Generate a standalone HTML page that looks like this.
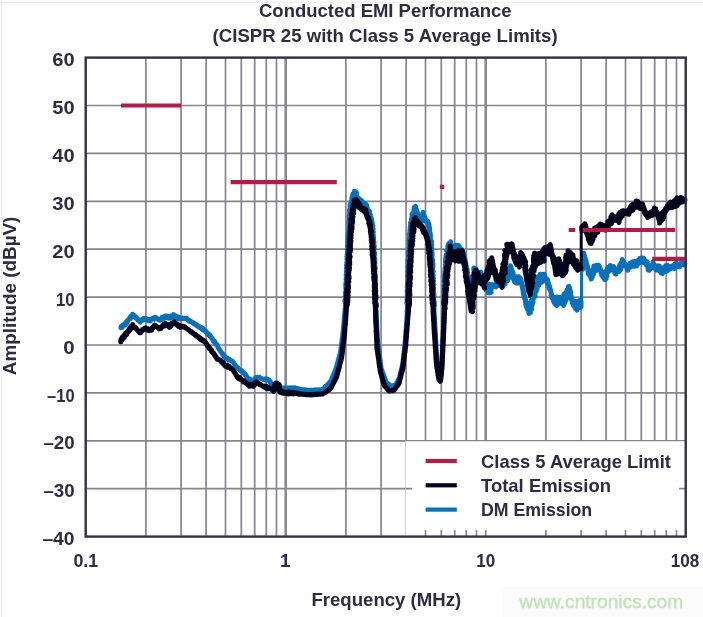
<!DOCTYPE html>
<html><head><meta charset="utf-8"><title>Conducted EMI Performance</title>
<style>
html,body{margin:0;padding:0;background:#fff;}
body{width:703px;height:617px;overflow:hidden;}
.t{font-family:"Liberation Sans",sans-serif;font-weight:bold;font-size:19px;fill:#2e2c40;}
.w{font-family:"Liberation Sans",sans-serif;font-size:19px;fill:#c0e4b9;stroke:#c0e4b9;stroke-width:0.35px;}
</style></head><body>
<svg width="703" height="617" viewBox="0 0 703 617" style="display:block;will-change:transform">
<rect x="0" y="0" width="703" height="617" fill="#ffffff"/>
<path d="M0,2.3H703 M1.3,0V617" stroke="#ebebeb" stroke-width="1" fill="none"/>
<path d="M145.9,57.6V536.6 M181.1,57.6V536.6 M206.1,57.6V536.6 M225.5,57.6V536.6 M241.3,57.6V536.6 M254.7,57.6V536.6 M266.3,57.6V536.6 M276.5,57.6V536.6 M345.9,57.6V536.6 M381.1,57.6V536.6 M406.1,57.6V536.6 M425.5,57.6V536.6 M441.3,57.6V536.6 M454.7,57.6V536.6 M466.3,57.6V536.6 M476.5,57.6V536.6 M545.9,57.6V536.6 M581.1,57.6V536.6 M606.1,57.6V536.6 M625.5,57.6V536.6 M641.3,57.6V536.6 M654.7,57.6V536.6 M666.3,57.6V536.6 M676.5,57.6V536.6" stroke="#86848f" stroke-width="1.7" fill="none"/>
<path d="M285.7,57.6V536.6 M485.7,57.6V536.6" stroke="#86848f" stroke-width="2.5" fill="none"/>
<path d="M85.7,488.7H685.7 M85.7,440.8H685.7 M85.7,392.9H685.7 M85.7,345.0H685.7 M85.7,297.1H685.7 M85.7,249.2H685.7 M85.7,201.3H685.7 M85.7,153.4H685.7 M85.7,105.5H685.7" stroke="#86848f" stroke-width="1.7" fill="none"/>
<path d="M120.9,327.8 L121.1,326.5 L122.4,327.1 L122.7,325.2 L124.1,325.2 L124.4,323.9 L125.7,324.8 L125.7,322.5 L126.8,322.8 L126.9,320.9 L127.9,320.8 L128.1,319.8 L129.1,319.6 L129.1,318.7 L130.2,318.8 L130.3,316.7 L131.2,317.3 L131.4,315.7 L132.5,315.6 L132.6,314.1 L133.6,315.7 L133.8,315.0 L134.9,317.3 L135.0,316.3 L136.2,318.1 L136.5,317.4 L137.5,319.8 L137.8,318.9 L138.8,320.7 L139.0,320.2 L140.2,322.1 L140.5,320.4 L141.8,320.6 L142.3,319.4 L143.4,320.0 L143.8,318.3 L145.2,319.7 L145.7,318.4 L147.1,320.1 L147.3,319.1 L148.8,320.7 L149.1,319.5 L150.5,320.8 L150.8,319.1 L152.1,319.3 L152.7,318.4 L154.1,319.1 L154.4,317.4 L155.8,318.6 L156.4,317.7 L157.9,319.5 L158.3,319.1 L159.8,320.1 L160.1,319.2 L161.5,319.5 L161.9,317.6 L163.1,318.6 L163.5,316.9 L164.9,317.9 L165.2,316.0 L166.7,317.7 L166.9,316.0 L168.4,318.1 L168.8,316.9 L170.0,318.1 L170.3,316.0 L171.7,317.3 L172.1,315.9 L173.3,316.4 L173.7,314.6 L175.1,316.6 L175.4,315.8 L176.8,317.5 L177.2,316.5 L178.6,318.8 L179.0,317.1 L180.4,318.9 L180.9,318.2 L182.4,318.6 L182.8,317.9 L184.3,318.5 L184.9,318.4 L186.3,319.2 L186.7,318.2 L187.9,320.4 L188.4,319.8 L189.6,321.4 L189.9,320.5 L191.4,322.0 L191.7,321.8 L192.9,323.2 L193.1,322.6 L194.4,323.9 L194.8,323.5 L196.1,325.1 L196.2,324.6 L197.5,325.9 L197.8,325.5 L199.1,327.2 L199.5,326.6 L200.7,328.2 L201.1,327.4 L202.5,329.6 L202.9,328.3 L204.2,330.5 L204.3,329.7 L205.5,331.8 L205.7,330.9 L207.0,333.5 L207.1,332.6 L208.3,334.8 L208.4,333.6 L209.6,335.8 L209.7,334.9 L210.9,336.8 L211.0,336.9 L212.0,338.8 L212.1,338.3 L213.3,340.9 L213.3,340.0 L214.3,342.4 L214.5,341.1 L215.5,343.8 L215.5,343.3 L216.6,345.1 L216.7,344.3 L217.7,346.6 L217.8,346.9 L218.7,348.6 L218.7,348.2 L219.8,350.4 L219.7,349.9 L220.8,351.6 L220.8,351.6 L222.0,353.0 L222.0,353.5 L223.1,354.9 L223.1,354.3 L224.3,356.9 L224.3,355.7 L225.4,358.3 L225.8,357.9 L227.2,358.8 L227.4,358.1 L228.7,360.0 L229.2,359.2 L230.5,360.6 L230.8,360.5 L232.1,361.4 L232.5,361.2 L233.6,362.7 L233.5,362.6 L234.7,364.9 L234.6,363.9 L235.7,366.5 L235.7,365.8 L236.8,367.0 L236.8,367.3 L238.2,368.8 L238.3,368.2 L239.6,369.8 L239.9,369.9 L241.1,371.1 L241.4,370.2 L242.7,372.4 L242.9,372.1 L244.2,373.8 L244.1,372.9 L245.3,375.1 L245.3,374.1 L246.3,376.3 L246.3,375.8 L247.3,378.0 L247.3,377.4 L248.4,379.8 L248.9,378.5 L250.4,379.7 L251.1,379.9 L252.6,380.8 L253.1,380.0 L254.2,380.4 L254.4,379.3 L255.6,378.7 L255.7,377.4 L256.9,377.5 L257.5,377.2 L258.9,378.2 L259.5,377.2 L260.9,378.6 L261.5,378.4 L263.0,379.3 L263.5,379.3 L265.0,380.2 L265.5,378.8 L266.9,380.0 L267.5,379.2 L268.9,380.6 L269.0,379.9 L270.1,382.5 L270.2,381.5 L271.2,384.0 L271.4,383.9 L272.5,385.6 L272.6,385.4 L274.1,386.6 L274.4,385.7 L275.7,387.4 L276.1,386.3 L277.5,387.9 L277.8,387.0 L279.1,388.6 L279.4,387.7 L280.9,388.9 L281.6,387.7 L283.0,389.3 L283.7,388.1 L285.2,389.8 L285.5,388.1 L287.2,389.2 L287.5,388.0 L289.0,389.1 L289.5,387.8 L290.9,389.0 L291.5,387.8 L292.9,388.5 L293.3,387.9 L294.7,388.8 L295.1,387.8 L296.5,389.9 L296.9,388.4 L298.4,389.9 L298.8,388.8 L300.2,389.5 L300.9,389.4 L302.0,389.6 L302.8,389.6 L304.0,389.8 L304.7,389.7 L305.8,390.1 L306.5,389.9 L307.7,390.1 L308.5,390.1 L309.6,390.3 L310.4,390.2 L311.5,390.4 L312.3,390.1 L313.3,390.2 L314.0,390.0 L315.1,390.1 L315.9,389.8 L317.0,390.0 L317.7,389.8 L318.8,390.0 L319.5,389.6 L320.7,389.8 L321.4,389.6 L322.5,389.7 L323.2,388.6 L324.2,388.1 L324.9,387.0 L325.7,386.7 L326.2,385.9 L327.1,385.3 L327.5,384.6 L328.3,384.0 L328.7,383.2 L329.6,382.8 L330.1,381.8 L330.9,381.5 L331.0,380.4 L331.6,379.8 L331.7,378.8 L332.3,378.2 L332.5,377.2 L333.0,376.5 L333.1,375.4 L333.7,374.8 L333.8,373.8 L334.4,373.1 L334.6,372.1 L335.1,371.5 L335.3,370.5 L335.8,369.8 L335.8,368.7 L336.3,368.0 L336.4,367.0 L336.8,366.4 L336.8,365.2 L337.3,364.5 L337.3,363.5 L337.8,362.7 L337.8,361.7 L338.2,361.1 L338.2,360.0 L338.7,359.2 L338.8,358.3 L339.2,357.6 L339.3,356.5 L339.8,355.9 L339.7,354.8 L340.2,354.1 L340.2,353.0 L340.7,352.3 L340.6,351.2 L341.0,350.5 L340.9,349.3 L341.1,348.7 L341.0,347.6 L341.4,346.9 L341.3,345.9 L341.6,345.1 L341.5,344.0 L341.8,343.3 L341.7,342.2 L342.0,341.5 L341.9,340.4 L342.3,339.7 L342.2,338.7 L342.5,337.9 L342.4,336.8 L342.7,336.1 L342.6,335.0 L342.9,334.4 L342.8,333.2 L343.2,332.6 L343.0,331.6 L343.4,330.9 L343.3,329.7 L343.6,329.1 L343.4,327.9 L343.8,327.1 L343.6,326.1 L343.9,325.3 L343.8,324.2 L344.1,323.5 L343.9,322.2 L344.2,321.5 L344.1,320.3 L344.4,319.6 L344.2,318.5 L344.5,317.8 L344.4,316.7 L344.7,315.9 L344.6,314.9 L344.8,314.1 L344.7,313.0 L345.0,312.2 L344.9,311.1 L345.2,310.4 L345.0,309.2 L345.3,308.6 L345.2,307.4 L345.5,306.6 L345.3,305.5 L345.5,304.7 L345.4,303.7 L345.9,305.2 L344.8,300.7 L346.4,304.5 L345.3,297.1 L346.2,300.4 L345.3,295.3 L346.3,300.4 L345.5,294.4 L346.4,296.7 L345.5,293.6 L346.4,295.0 L345.4,292.2 L346.7,292.4 L345.8,288.7 L346.8,292.9 L345.8,287.1 L347.0,288.9 L345.6,285.0 L347.1,286.6 L346.0,282.8 L347.0,285.4 L346.1,281.9 L347.1,284.0 L346.1,279.8 L347.0,282.4 L346.1,278.4 L347.3,280.7 L346.2,275.4 L347.4,279.4 L346.3,274.6 L347.3,277.6 L346.1,274.9 L347.3,274.1 L346.3,271.7 L347.8,274.7 L346.4,267.8 L347.4,273.3 L346.7,266.3 L347.5,272.2 L346.4,265.2 L347.6,269.0 L346.9,263.4 L347.8,266.9 L346.8,262.1 L348.2,266.6 L347.1,258.9 L348.0,263.5 L346.9,259.1 L348.4,261.3 L346.9,256.7 L348.2,259.6 L347.1,254.2 L348.3,258.6 L347.4,252.0 L348.4,255.3 L347.5,250.6 L348.6,254.3 L347.6,249.9 L348.4,251.1 L347.6,247.5 L348.8,249.8 L347.6,246.9 L348.9,248.1 L347.6,245.1 L348.8,246.2 L347.9,244.3 L348.9,244.8 L347.9,241.4 L349.1,244.3 L347.9,239.7 L349.3,241.2 L347.9,235.6 L349.5,239.6 L348.2,235.1 L349.6,236.9 L348.4,233.1 L349.7,235.8 L348.5,229.8 L349.7,234.8 L348.7,229.6 L349.9,234.3 L348.8,227.3 L349.7,231.1 L348.9,223.8 L350.0,228.8 L349.1,221.4 L350.1,226.8 L348.8,222.7 L350.2,224.7 L349.0,221.1 L350.4,221.6 L349.2,218.5 L350.4,222.3 L349.2,217.7 L350.4,219.0 L349.1,216.3 L350.4,217.7 L349.6,213.6 L350.7,216.3 L349.5,211.0 L350.6,214.8 L349.5,210.3 L351.0,212.7 L349.9,208.6 L351.2,211.8 L350.0,205.3 L351.5,209.3 L350.7,203.1 L352.2,206.6 L351.0,203.3 L352.5,204.7 L351.6,200.7 L352.8,202.6 L351.8,198.2 L353.5,202.4 L352.4,196.2 L353.7,199.2 L352.9,193.9 L354.8,198.1 L354.0,192.4 L355.5,194.5 L354.5,191.1 L356.4,192.5 L355.5,192.1 L356.9,197.6 L356.3,193.7 L357.5,199.3 L356.7,196.3 L358.3,199.9 L357.2,197.7 L359.4,202.5 L359.0,198.4 L360.9,205.4 L360.4,199.6 L362.0,205.4 L361.6,200.4 L363.6,205.8 L363.5,202.5 L365.5,204.9 L365.1,203.7 L367.0,208.4 L366.3,204.4 L367.5,209.9 L366.7,206.8 L368.7,211.1 L368.0,209.9 L369.6,211.5 L368.5,210.3 L370.3,214.4 L369.3,212.9 L370.7,217.4 L369.9,214.5 L371.1,218.8 L370.1,216.6 L371.4,219.9 L370.7,216.7 L371.6,221.5 L371.1,217.4 L372.3,223.1 L371.1,222.8 L372.3,224.4 L371.3,224.0 L372.8,225.8 L371.7,224.9 L372.7,227.0 L371.7,226.7 L373.1,229.0 L371.7,229.4 L373.3,232.0 L372.3,229.9 L373.2,234.6 L372.4,229.2 L373.5,236.5 L372.6,232.8 L373.8,238.3 L372.4,237.6 L373.6,239.8 L372.7,236.7 L374.0,242.1 L372.8,240.7 L373.7,243.0 L372.7,240.6 L374.0,244.2 L373.0,242.5 L374.3,246.3 L372.8,243.3 L374.2,249.1 L373.1,246.9 L374.2,251.9 L373.1,249.0 L374.5,252.8 L373.4,251.7 L374.5,254.7 L373.3,253.6 L374.3,257.0 L373.3,255.7 L374.8,258.2 L373.6,256.3 L374.9,260.1 L373.5,256.7 L374.6,262.7 L373.6,259.2 L374.9,263.0 L373.7,261.1 L374.8,265.4 L373.7,265.4 L375.0,266.9 L373.8,266.0 L375.0,268.8 L373.9,267.3 L375.0,271.7 L373.7,269.3 L374.8,275.0 L374.0,270.9 L375.0,277.3 L373.9,273.3 L375.4,276.9 L374.0,273.5 L375.4,279.3 L374.2,276.1 L375.1,282.4 L373.9,279.1 L375.3,283.3 L374.1,280.7 L375.5,283.5 L374.3,281.3 L375.3,286.0 L374.5,283.3 L375.3,289.1 L374.3,286.0 L375.8,291.0 L374.3,288.7 L375.4,293.0 L374.7,289.2 L375.7,294.3 L374.6,290.9 L375.8,294.7 L374.6,292.5 L375.9,296.0 L374.8,295.3 L375.9,299.8 L374.8,296.1 L375.8,301.0 L374.7,298.5 L375.7,301.8 L374.9,300.9 L375.9,304.1 L374.7,302.1 L376.0,307.1 L375.5,305.4 L375.8,306.6 L375.6,307.0 L375.9,308.4 L375.7,308.8 L376.0,310.2 L375.8,310.9 L376.1,312.0 L375.9,312.5 L376.2,313.9 L376.0,314.4 L376.3,315.7 L376.1,316.2 L376.4,317.3 L376.2,318.0 L376.5,319.1 L376.3,319.9 L376.6,321.0 L376.4,321.7 L376.7,323.0 L376.5,323.5 L376.8,324.8 L376.6,325.3 L376.9,326.6 L376.6,327.0 L376.9,328.3 L376.7,328.8 L377.1,330.1 L376.9,330.7 L377.2,332.0 L377.0,332.5 L377.3,333.8 L377.1,334.4 L377.3,335.6 L377.1,336.4 L377.4,337.4 L377.3,338.1 L377.6,339.3 L377.4,339.9 L377.8,340.9 L377.6,341.7 L377.9,342.8 L377.8,343.5 L378.2,344.7 L378.1,345.2 L378.4,346.5 L378.2,347.3 L378.6,348.2 L378.5,348.9 L378.8,350.0 L378.8,350.8 L379.2,351.9 L378.9,352.5 L379.3,353.7 L379.2,354.3 L379.5,355.4 L379.3,356.2 L379.8,357.2 L379.7,357.8 L380.0,359.1 L379.8,359.7 L380.2,360.7 L380.1,361.5 L380.5,362.7 L380.3,363.2 L380.6,364.5 L380.5,365.0 L381.0,366.4 L380.8,366.9 L381.1,368.2 L381.1,368.7 L381.8,370.0 L381.9,370.6 L382.4,371.7 L382.4,372.2 L383.1,373.5 L383.1,374.2 L383.8,375.3 L383.7,375.9 L384.4,377.1 L384.4,377.6 L385.0,378.8 L385.1,379.4 L385.7,380.6 L385.7,381.3 L386.4,382.4 L386.9,382.8 L388.0,383.9 L388.6,384.0 L389.6,385.1 L390.2,385.6 L391.2,386.3 L392.1,385.8 L393.4,385.8 L394.1,385.3 L395.5,385.5 L395.8,384.2 L396.6,383.7 L396.8,382.6 L397.5,381.9 L397.7,380.9 L398.5,380.2 L398.6,379.2 L399.4,378.7 L399.4,377.5 L399.8,376.9 L399.8,375.6 L400.4,375.1 L400.3,373.9 L400.7,373.2 L400.7,372.0 L401.2,371.3 L401.1,370.1 L401.7,369.4 L401.6,368.3 L402.1,367.6 L402.0,366.5 L402.5,365.9 L402.5,364.7 L403.0,363.9 L402.8,362.9 L403.1,362.2 L402.9,361.0 L403.4,360.5 L403.2,359.0 L403.6,358.4 L403.4,357.2 L403.8,356.7 L403.7,355.4 L404.0,354.7 L403.8,353.6 L404.2,352.8 L404.1,351.6 L404.5,351.1 L404.3,349.7 L404.7,349.2 L404.5,348.0 L404.9,347.4 L404.7,346.2 L405.1,345.6 L404.9,344.3 L405.3,343.6 L405.0,342.3 L405.5,341.8 L405.2,340.5 L405.5,340.0 L405.4,338.8 L405.7,338.1 L405.5,337.0 L405.9,336.2 L405.7,335.2 L405.9,334.6 L405.8,333.2 L406.0,332.8 L405.9,331.4 L406.2,330.9 L406.0,329.7 L406.4,329.0 L406.2,327.8 L406.4,327.3 L406.3,326.1 L406.7,325.5 L406.4,324.4 L406.8,323.6 L406.6,322.5 L406.9,321.8 L406.7,320.7 L407.0,320.0 L406.8,318.9 L407.1,318.2 L406.9,317.0 L407.3,316.4 L407.0,315.2 L407.4,314.4 L407.1,313.4 L407.4,312.8 L407.1,311.5 L407.5,311.0 L407.2,309.7 L407.6,309.1 L407.3,307.9 L407.6,307.2 L407.3,306.0 L407.6,305.4 L406.8,302.8 L408.1,305.6 L407.0,299.7 L408.1,304.3 L407.2,299.4 L408.2,302.3 L407.0,298.3 L408.4,299.7 L407.2,295.7 L408.2,296.4 L407.2,293.6 L408.4,293.8 L407.1,291.3 L408.6,292.7 L407.3,288.9 L408.6,291.4 L407.2,287.5 L408.5,288.8 L407.3,286.1 L408.5,287.4 L407.4,283.6 L408.7,285.5 L407.6,281.9 L408.8,284.5 L407.7,278.9 L408.7,282.5 L407.8,278.8 L408.8,280.7 L407.4,276.3 L409.0,281.8 L407.5,274.1 L408.8,276.4 L407.8,271.6 L409.0,275.1 L407.7,271.0 L408.8,275.1 L407.9,269.9 L408.8,273.1 L407.7,266.6 L409.1,272.1 L408.0,266.0 L409.0,269.0 L408.0,263.6 L409.3,265.9 L407.9,260.9 L409.0,264.1 L408.1,258.9 L409.4,263.5 L408.2,258.7 L409.3,262.8 L408.3,256.2 L409.5,258.5 L408.4,254.3 L409.5,258.7 L408.2,251.6 L409.5,256.5 L408.7,251.0 L409.8,254.4 L408.8,250.3 L409.6,251.3 L408.7,248.6 L410.1,250.3 L409.1,247.4 L410.3,248.9 L409.0,243.2 L410.2,247.4 L409.2,242.1 L410.4,246.4 L409.1,240.6 L410.3,245.4 L409.5,237.6 L410.7,242.1 L409.5,238.6 L410.8,239.7 L409.3,235.3 L410.5,235.9 L409.5,234.2 L410.7,236.1 L409.7,232.7 L410.7,233.0 L409.9,230.2 L410.9,234.0 L410.1,227.8 L411.2,232.4 L410.5,225.0 L411.6,229.1 L410.5,222.8 L412.1,227.2 L410.8,223.6 L412.2,224.9 L411.4,219.0 L412.3,223.4 L411.4,219.3 L412.7,221.3 L411.8,217.6 L413.1,219.7 L411.9,214.2 L413.5,217.5 L412.8,213.1 L414.1,213.9 L413.3,213.0 L414.4,214.0 L413.9,209.6 L415.2,212.9 L414.0,207.8 L415.6,210.9 L414.6,207.1 L416.2,208.4 L415.5,206.3 L416.6,210.5 L415.7,207.3 L417.3,213.4 L416.6,210.4 L417.9,213.7 L416.8,212.7 L418.3,214.5 L417.5,213.4 L419.0,217.7 L417.9,216.2 L420.0,220.5 L419.5,217.6 L421.0,221.1 L420.9,218.5 L422.6,220.9 L422.1,217.4 L423.9,220.5 L423.0,212.3 L425.0,218.4 L423.9,215.9 L425.6,219.9 L424.7,217.4 L426.2,221.3 L425.2,219.6 L426.5,222.3 L426.6,221.0 L429.0,224.7 L427.8,221.4 L429.2,226.2 L428.2,225.3 L429.6,228.2 L428.5,224.1 L429.8,230.8 L428.6,226.1 L429.8,232.1 L429.0,230.2 L430.2,233.0 L429.1,230.4 L430.5,236.1 L429.4,231.5 L430.6,235.6 L429.6,233.7 L430.9,240.2 L429.8,235.9 L431.0,242.5 L430.3,238.4 L431.6,241.9 L430.5,240.0 L431.8,245.2 L430.6,242.3 L431.7,248.2 L430.9,243.8 L431.9,249.2 L430.8,245.3 L432.0,251.0 L431.0,249.2 L432.1,253.0 L431.2,248.3 L432.3,254.6 L431.1,249.9 L432.1,257.0 L431.1,253.8 L432.4,259.2 L431.2,256.4 L432.7,260.0 L431.5,258.4 L432.7,260.8 L431.6,258.6 L432.8,263.1 L431.7,260.5 L433.0,264.1 L431.6,261.3 L433.0,266.7 L432.0,264.5 L432.9,270.4 L431.8,266.9 L433.1,272.0 L432.0,268.7 L433.2,271.5 L432.0,270.2 L433.2,274.9 L432.3,271.9 L433.1,277.3 L432.4,274.5 L433.5,278.2 L432.2,277.1 L433.6,281.2 L432.3,277.1 L433.3,283.7 L432.5,280.0 L433.6,284.5 L432.2,281.5 L433.8,284.6 L432.5,282.8 L433.8,289.5 L432.5,285.5 L433.7,288.4 L432.5,287.1 L433.6,290.1 L432.9,288.3 L433.9,293.6 L432.7,290.1 L434.0,294.3 L433.0,291.5 L434.0,296.3 L433.0,293.2 L433.8,299.2 L432.9,295.8 L434.1,301.2 L433.2,298.2 L434.3,302.3 L433.3,299.8 L434.4,303.3 L433.1,302.6 L434.5,305.3 L433.2,304.9 L433.9,305.6 L433.7,306.2 L434.1,307.5 L433.8,307.9 L434.1,309.2 L433.8,309.8 L434.1,311.2 L434.0,311.7 L434.3,312.9 L434.0,313.3 L434.3,314.7 L434.2,315.3 L434.5,316.4 L434.3,317.1 L434.7,318.3 L434.3,319.0 L434.6,320.2 L434.5,320.8 L434.8,322.0 L434.6,322.6 L434.9,323.6 L434.7,324.4 L434.9,325.6 L434.8,326.3 L435.1,327.3 L434.9,328.1 L435.2,329.3 L435.0,329.9 L435.3,331.1 L435.1,331.8 L435.4,332.9 L435.2,333.6 L435.5,334.6 L435.2,335.3 L435.6,336.4 L435.4,337.1 L435.7,338.3 L435.5,338.9 L435.8,340.1 L435.5,340.7 L435.9,341.9 L435.7,342.6 L436.0,343.9 L435.8,344.4 L436.1,345.5 L435.9,346.2 L436.2,347.3 L436.1,348.1 L436.3,349.1 L436.1,349.9 L436.4,351.0 L436.2,351.7 L436.5,353.0 L436.3,353.5 L436.6,354.7 L436.5,355.2 L436.7,356.5 L436.6,357.2 L436.8,358.2 L436.6,359.0 L436.9,360.0 L436.7,360.7 L437.2,361.9 L437.0,362.5 L437.4,363.8 L437.2,364.3 L437.6,365.6 L437.5,366.1 L437.9,367.4 L437.7,367.9 L438.1,369.2 L438.0,369.8 L438.3,370.9 L438.1,371.6 L438.6,372.7 L438.4,373.4 L438.8,374.5 L438.6,375.2 L439.1,376.3 L438.9,376.9 L440.0,377.7 L440.4,377.9 L440.9,377.3 L440.6,376.1 L441.0,375.3 L440.9,374.2 L441.2,373.4 L441.0,372.1 L441.4,371.5 L441.2,370.4 L441.6,369.5 L441.4,368.5 L441.8,367.9 L441.6,366.4 L442.0,365.9 L441.8,364.5 L442.2,364.1 L441.9,362.8 L442.3,362.2 L442.1,361.0 L442.4,360.3 L442.2,359.1 L442.6,358.5 L442.2,357.3 L442.6,356.7 L442.3,355.4 L442.6,355.0 L442.4,353.6 L442.7,353.2 L442.5,351.9 L442.8,351.3 L442.6,350.0 L442.9,349.3 L442.7,348.2 L442.9,347.7 L442.7,346.4 L443.0,345.8 L442.8,344.6 L443.1,344.0 L442.9,342.8 L443.2,342.3 L442.9,341.0 L443.3,340.2 L443.1,339.2 L443.3,338.6 L443.1,337.2 L443.4,336.7 L443.2,335.4 L443.5,334.9 L443.3,333.7 L443.6,333.1 L443.3,331.9 L443.7,331.3 L443.4,330.1 L443.7,329.4 L443.5,328.3 L443.8,327.6 L443.5,326.4 L443.9,325.7 L443.7,324.7 L443.9,323.9 L443.8,322.8 L444.0,322.1 L443.8,320.9 L444.0,320.4 L443.8,319.2 L444.1,318.6 L443.8,317.3 L444.2,316.7 L444.0,315.4 L444.3,314.9 L444.0,313.5 L444.3,313.1 L444.1,311.7 L444.4,311.2 L444.1,310.1 L444.4,309.4 L444.1,308.2 L444.5,307.7 L444.2,306.3 L444.5,305.7 L443.8,304.0 L445.0,304.4 L443.9,301.0 L444.8,302.3 L444.0,298.6 L444.9,300.0 L443.9,297.7 L445.1,298.7 L443.9,296.4 L445.2,298.0 L444.0,293.1 L444.9,298.5 L443.9,291.5 L445.1,294.9 L444.4,290.8 L445.3,293.9 L444.0,288.1 L445.3,292.6 L444.2,286.0 L445.2,289.6 L444.2,286.6 L445.6,287.3 L444.3,282.0 L445.6,286.0 L444.5,279.8 L445.6,282.8 L444.3,277.8 L445.5,284.1 L444.4,276.8 L445.7,281.2 L444.5,275.0 L445.7,278.0 L444.8,272.5 L446.1,275.5 L444.8,271.3 L446.1,274.5 L445.0,269.4 L446.1,274.8 L445.0,268.1 L446.3,272.5 L445.4,265.4 L446.6,270.2 L445.4,264.5 L446.4,267.8 L445.4,261.5 L446.7,266.8 L445.6,259.7 L447.0,263.5 L445.7,258.9 L447.1,260.6 L445.9,257.5 L446.9,257.7 L446.0,256.1 L447.4,257.7 L446.4,254.5 L447.7,254.5 L446.6,250.9 L448.3,253.8 L447.0,250.5 L448.7,251.7 L447.7,246.1 L449.2,251.1 L448.7,243.4 L450.0,250.2 L449.2,245.0 L450.6,249.2 L449.9,243.5 L451.5,247.4 L450.7,241.6 L451.9,248.8 L451.3,246.4 L453.1,250.3 L451.9,246.4 L453.8,252.7 L452.9,246.5 L454.3,254.4 L453.8,249.7 L455.5,254.5 L454.8,249.1 L456.5,251.0 L456.0,245.1 L458.2,252.4 L457.4,245.4 L459.6,252.4 L458.7,245.4 L460.7,250.3 L459.7,248.1 L461.4,253.8 L460.7,248.8 L462.6,253.7 L461.4,249.0 L463.2,255.7 L462.8,251.0 L464.4,255.5 L463.1,254.5 L464.3,258.6 L463.6,258.1 L464.7,260.3 L463.8,257.8 L465.4,262.7 L464.4,256.8 L465.8,262.6 L464.9,260.6 L466.3,265.9 L465.0,263.2 L466.4,266.8 L465.3,263.9 L467.0,269.1 L465.8,268.9 L467.3,271.2 L466.1,268.3 L467.5,272.7 L466.4,271.4 L467.7,276.4 L466.4,274.3 L468.1,277.3 L467.0,275.1 L468.0,277.2 L467.3,277.4 L468.3,280.2 L467.3,279.5 L469.0,282.6 L467.5,280.1 L469.3,284.9 L468.1,282.0 L469.5,285.0 L468.5,285.3 L469.9,288.3 L468.8,286.8 L470.2,289.8 L469.2,286.7 L470.8,292.8 L469.5,288.7 L471.4,293.9 L470.1,286.8 L471.4,291.3 L470.6,288.8 L472.1,291.6 L471.0,287.0 L472.5,288.9 L471.4,283.3 L473.1,286.0 L472.0,283.9 L473.5,285.3 L472.2,276.5 L474.1,283.0 L472.6,278.3 L474.1,279.9 L473.0,276.9 L474.4,278.8 L473.5,275.2 L474.8,278.5 L473.8,272.7 L475.0,274.1 L473.7,269.2 L475.4,273.0 L473.8,268.0 L475.6,272.0 L474.2,267.9 L475.6,269.5 L474.5,268.4 L476.5,270.8 L475.5,269.4 L477.0,274.9 L475.8,268.6 L477.8,274.7 L476.8,271.7 L478.3,277.9 L477.0,272.8 L479.3,278.7 L479.1,272.9 L481.4,280.2 L480.9,272.0 L483.3,278.7 L482.5,275.8 L484.1,279.6 L483.0,277.4 L484.5,281.8 L483.2,279.9 L485.1,286.9 L483.7,280.7 L485.1,288.2 L484.6,282.4 L485.7,289.2 L484.7,286.2 L486.4,290.0 L486.0,287.8 L488.3,292.8 L487.4,285.3 L489.9,293.0 L489.1,284.2 L491.2,292.3 L490.4,286.0 L492.6,287.1 L492.0,284.5 L494.2,286.3 L493.7,285.2 L496.0,286.8 L495.5,284.6 L498.2,285.4 L497.7,283.0 L499.8,285.4 L499.6,283.7 L502.1,283.3 L501.5,281.1 L503.3,285.6 L502.9,279.0 L505.3,283.8 L504.9,275.1 L506.9,280.8 L505.6,276.5 L507.6,280.8 L506.6,271.9 L508.0,278.2 L507.7,271.8 L509.1,277.8 L508.3,271.7 L510.0,277.1 L509.2,267.6 L510.5,275.4 L510.5,265.7 L512.6,272.5 L511.8,271.0 L513.2,272.9 L511.9,270.3 L513.3,275.7 L512.5,272.5 L513.9,279.5 L512.6,271.8 L514.0,280.1 L513.1,277.7 L514.5,281.6 L514.3,279.4 L516.2,283.0 L516.2,276.6 L517.9,283.1 L517.5,277.9 L519.3,280.1 L518.6,276.6 L520.0,281.2 L519.2,278.5 L521.1,282.9 L519.8,277.4 L521.8,284.8 L520.7,278.6 L522.2,286.9 L521.4,281.7 L522.6,286.1 L521.4,283.3 L523.0,290.3 L521.8,284.3 L523.5,292.5 L522.5,287.3 L523.8,296.2 L523.0,289.3 L524.0,294.8 L523.0,290.0 L524.5,298.5 L523.4,291.6 L525.2,298.5 L524.1,294.4 L525.2,299.5 L524.2,296.5 L525.9,300.9 L524.5,297.9 L526.4,302.8 L524.9,298.6 L526.4,307.0 L525.4,301.8 L527.1,307.7 L525.7,304.4 L527.8,308.8 L526.8,307.2 L528.2,310.8 L527.5,307.8 L529.1,313.5 L528.3,307.0 L530.1,312.5 L529.0,305.6 L530.6,312.6 L530.0,305.9 L531.6,309.1 L530.2,303.1 L531.9,306.2 L531.2,300.7 L532.3,304.5 L531.4,301.2 L532.8,303.5 L532.2,297.4 L533.1,302.1 L532.5,297.3 L533.7,297.7 L533.0,293.8 L534.4,297.7 L533.1,290.2 L534.7,296.3 L533.5,289.3 L535.3,296.2 L534.4,289.4 L535.8,291.2 L534.9,288.7 L536.2,291.3 L535.1,286.1 L536.5,289.4 L535.8,281.2 L537.2,289.2 L536.4,281.1 L537.7,286.1 L536.9,277.2 L539.0,285.2 L538.3,276.5 L540.3,281.4 L539.4,275.6 L541.4,282.5 L540.3,274.2 L542.9,281.3 L542.6,274.1 L544.8,278.2 L544.3,274.1 L545.8,279.6 L545.1,276.8 L546.6,280.6 L545.9,279.5 L547.3,282.9 L546.6,280.1 L548.3,285.7 L547.4,279.4 L549.1,286.7 L548.2,283.5 L549.5,286.6 L548.3,282.9 L550.1,289.4 L548.8,287.4 L550.6,290.6 L549.3,288.6 L550.9,290.7 L550.0,288.5 L551.6,294.5 L550.6,291.1 L552.2,297.5 L551.1,295.4 L552.9,298.0 L551.5,297.3 L553.2,299.2 L552.5,297.7 L554.0,302.6 L553.0,298.2 L554.9,303.1 L553.8,297.0 L555.8,303.8 L554.8,303.5 L556.8,305.5 L556.0,302.0 L557.8,304.6 L557.1,296.9 L559.2,303.3 L558.2,297.6 L560.0,300.9 L559.8,297.2 L561.8,303.8 L561.6,300.2 L563.6,305.4 L563.1,297.8 L564.8,303.0 L563.9,294.3 L565.5,300.9 L564.8,293.9 L566.1,300.3 L565.5,293.0 L567.0,296.7 L566.2,291.9 L567.8,293.7 L567.1,289.9 L568.6,291.5 L567.7,289.4 L569.1,291.1 L568.3,286.6 L569.8,291.6 L569.0,286.1 L570.2,290.5 L569.1,289.7 L570.8,292.3 L569.7,291.7 L571.0,299.0 L570.2,292.0 L571.4,297.2 L570.7,294.3 L572.0,300.0 L570.6,293.6 L572.3,301.7 L571.4,299.6 L572.7,302.6 L571.6,299.9 L573.5,305.6 L572.5,302.9 L574.5,306.8 L573.8,300.6 L575.6,308.9 L574.5,304.0 L576.9,310.1 L576.8,301.5 L578.6,307.3 L578.4,301.5 L580.0,307.8 L579.4,300.5 L581.0,307.1 L581.0,301.6 M582.3,269.5 L581.9,265.9 L582.8,268.9 L582.0,263.0 L582.8,267.0 L582.3,260.8 L583.4,266.6 L582.7,259.3 L583.6,263.0 L582.9,259.1 L583.7,261.1 L583.2,257.7 L584.1,259.1 L583.4,252.9 L584.5,257.0 L583.8,253.3 L584.9,258.4 L584.4,255.7 L585.5,260.6 L585.0,257.8 L586.3,263.7 L585.6,261.6 L586.7,265.6 L586.0,260.5 L587.1,266.3 L586.4,263.4 L587.5,266.3 L586.9,266.7 L587.9,270.3 L587.4,267.3 L588.6,274.3 L587.8,268.2 L589.2,271.8 L588.5,270.7 L589.8,275.5 L589.5,272.9 L591.2,279.0 L590.6,274.1 L592.2,277.8 L591.6,272.2 L592.8,273.2 L592.6,270.9 L593.5,274.3 L593.1,269.1 L594.5,271.6 L593.8,266.0 L595.3,269.9 L594.9,267.2 L596.7,270.4 L596.7,265.2 L598.1,268.0 L597.9,265.3 L599.2,267.4 L598.8,265.3 L599.9,268.0 L599.5,267.5 L600.7,269.7 L600.2,268.5 L601.3,274.5 L601.0,270.3 L602.4,276.4 L602.2,273.5 L603.5,277.6 L603.0,272.3 L604.6,279.4 L604.2,276.3 L605.4,279.4 L604.8,274.5 L606.2,278.5 L605.9,270.9 L607.0,276.2 L606.4,270.8 L607.6,272.3 L607.2,268.6 L608.9,271.2 L608.5,267.0 L610.2,270.5 L610.2,265.4 L611.7,268.5 L611.2,266.6 L612.7,268.4 L612.3,267.3 L613.8,270.6 L613.6,266.4 L615.0,273.5 L614.5,269.8 L616.0,274.2 L615.8,269.9 L617.4,271.9 L617.4,268.7 L619.0,271.5 L618.8,268.6 L619.9,270.4 L619.6,265.1 L620.9,269.1 L620.7,263.3 L622.1,266.3 L621.4,262.2 L622.6,262.9 L622.3,259.4 L623.8,264.0 L623.2,261.1 L624.8,264.1 L624.5,263.3 L625.8,266.5 L625.4,264.8 L626.8,266.4 L626.4,265.4 L627.6,270.3 L627.3,266.8 L628.6,268.6 L628.6,265.6 L630.0,267.3 L629.9,263.1 L631.3,266.8 L631.0,264.7 L632.3,265.7 L632.5,261.7 L634.6,266.3 L634.8,261.4 L636.6,265.9 L636.5,261.3 L638.3,263.7 L638.6,259.7 L640.1,262.3 L640.1,258.1 L642.1,261.6 L641.9,257.8 L643.7,262.7 L643.7,258.2 L644.9,261.0 L644.5,259.8 L645.8,263.1 L645.5,261.1 L646.5,265.1 L646.3,263.2 L647.6,266.6 L647.2,261.7 L648.2,270.0 L647.8,264.9 L649.4,270.3 L649.7,266.9 L651.3,267.6 L651.1,265.4 L652.8,266.6 L652.9,262.3 L654.3,267.8 L654.5,264.8 L656.0,270.1 L655.9,266.6 L657.9,268.1 L657.8,265.8 L659.3,271.0 L659.3,265.9 L661.0,273.0 L660.9,268.3 L662.6,273.6 L662.6,269.7 L664.2,271.0 L664.3,267.3 L665.8,271.6 L665.7,265.6 L667.5,270.6 L667.3,265.2 L669.3,269.4 L669.3,266.8 L671.1,268.7 L671.4,266.2 L673.1,268.0 L672.9,265.5 L674.5,268.5 L674.8,264.0 L676.2,267.0 L676.3,262.9 L677.8,266.6 L677.9,263.9 L679.7,266.8 L679.8,263.7 L681.5,264.6 L682.0,262.2 L684.0,264.8 L684.8,263.9" stroke="#0b70b8" stroke-width="4.9" fill="none" stroke-linejoin="round" stroke-linecap="round"/>
<path d="M581.6,303V262" stroke="#0b70b8" stroke-width="3" fill="none"/>
<path d="M120.8,341.7 L121.0,339.5 L122.0,340.0 L122.1,337.6 L123.2,338.6 L123.2,336.2 L124.3,337.2 L124.5,334.7 L125.5,335.6 L125.6,333.3 L126.7,334.4 L126.9,332.1 L127.9,332.1 L128.1,331.0 L129.1,331.1 L129.1,329.4 L130.3,329.7 L130.4,327.3 L131.4,328.3 L131.5,326.0 L132.6,326.6 L132.7,324.5 L133.8,326.9 L134.1,327.0 L135.3,328.0 L135.4,327.5 L136.7,329.3 L136.8,329.5 L138.0,331.0 L138.4,330.9 L139.5,332.6 L139.7,332.0 L140.8,332.5 L141.0,331.0 L142.4,330.7 L142.6,329.6 L143.7,329.5 L144.1,328.5 L145.3,328.8 L145.7,327.9 L147.0,329.9 L147.5,328.6 L148.9,330.6 L149.3,330.2 L150.5,330.3 L150.7,329.1 L151.8,330.0 L152.0,328.0 L153.0,328.1 L153.1,326.8 L154.2,326.8 L154.5,325.1 L155.8,326.1 L156.2,326.1 L157.6,327.2 L157.9,327.4 L159.1,328.9 L159.5,327.9 L160.7,328.6 L160.9,327.3 L162.2,327.2 L162.4,325.9 L163.6,326.3 L163.9,324.1 L165.0,325.6 L165.3,323.3 L166.6,325.4 L166.7,324.8 L168.1,326.1 L168.5,324.8 L169.7,327.3 L169.9,325.1 L171.2,325.6 L171.5,323.3 L172.8,324.0 L173.1,322.6 L174.2,322.6 L174.4,321.6 L175.7,324.0 L176.0,323.3 L177.2,325.3 L177.2,324.1 L178.5,326.4 L178.9,325.1 L180.4,327.2 L181.0,326.0 L182.5,326.9 L182.9,326.2 L184.4,327.3 L184.9,327.1 L186.1,328.3 L186.4,328.2 L187.6,329.1 L187.8,329.4 L189.2,330.3 L189.4,330.5 L190.6,331.8 L190.9,331.4 L192.1,332.9 L192.3,332.5 L193.7,333.7 L194.0,333.8 L195.2,335.1 L195.4,334.4 L196.7,336.1 L197.0,335.9 L198.2,337.1 L198.5,336.9 L199.8,338.7 L200.1,337.9 L201.3,339.8 L201.6,339.2 L202.7,340.6 L203.1,340.1 L204.3,341.5 L204.5,341.2 L205.6,342.9 L205.6,342.3 L206.8,344.5 L206.9,345.0 L208.0,346.3 L208.0,345.7 L209.1,348.1 L209.3,347.6 L210.3,349.0 L210.5,349.2 L211.5,351.4 L211.6,350.4 L212.7,352.8 L212.6,352.4 L213.7,353.6 L213.8,353.4 L214.9,355.5 L214.9,355.3 L215.9,357.2 L216.2,357.0 L217.1,358.9 L217.4,358.8 L218.6,359.6 L218.9,359.6 L220.2,360.2 L220.5,360.6 L221.5,361.9 L221.7,361.8 L222.8,363.4 L223.0,362.2 L224.0,364.4 L224.2,364.5 L225.3,366.0 L225.8,365.1 L227.0,366.8 L227.4,365.3 L228.7,367.6 L229.1,366.3 L230.5,368.4 L230.9,368.0 L232.1,369.3 L232.2,369.2 L233.2,370.7 L233.3,370.2 L234.3,372.1 L234.2,371.5 L235.2,373.6 L235.4,373.7 L236.4,375.3 L236.4,375.3 L237.4,377.5 L237.6,376.4 L238.8,378.6 L239.2,377.3 L240.3,379.2 L240.6,378.3 L241.9,380.1 L242.1,380.1 L243.3,381.7 L243.7,380.6 L244.9,382.3 L245.1,382.2 L246.3,383.3 L246.6,383.0 L247.8,384.7 L248.1,384.2 L249.3,386.1 L249.9,384.4 L251.4,385.8 L252.1,385.0 L253.6,386.1 L253.6,383.8 L255.0,384.6 L255.2,382.7 L256.2,383.2 L256.4,381.9 L257.8,383.3 L258.1,383.1 L259.4,384.2 L259.9,384.1 L261.3,385.1 L261.6,385.4 L263.0,386.2 L263.3,386.1 L264.7,387.0 L265.1,386.2 L266.3,388.1 L266.6,386.3 L268.0,388.6 L268.5,387.5 L269.8,388.6 L270.3,388.7 L271.7,389.6 L272.1,389.2 L273.6,391.4 L274.0,389.9 L274.6,390.1 L274.2,388.3 L274.8,388.4 L274.4,386.6 L275.0,386.3 L274.7,384.5 L275.3,384.7 L275.6,383.2 L277.2,384.8 L277.7,383.4 L279.1,384.5 L278.7,384.6 L279.4,386.4 L279.0,386.6 L279.6,387.9 L279.2,388.1 L279.8,390.4 L279.4,390.3 L279.9,392.2 L280.5,391.8 L282.0,392.9 L282.6,391.5 L284.2,393.1 L284.7,392.3 L286.0,393.2 L286.4,392.4 L288.0,393.7 L288.3,392.1 L289.8,393.6 L290.1,392.2 L291.7,393.5 L292.2,392.4 L293.5,393.7 L293.9,392.4 L295.3,393.3 L295.7,392.9 L297.3,393.8 L297.6,393.1 L299.0,394.2 L299.4,393.9 L300.7,394.1 L301.4,394.0 L302.5,394.3 L303.2,394.2 L304.4,394.5 L305.1,394.4 L306.2,394.7 L306.9,394.4 L308.0,394.8 L308.7,394.6 L309.8,394.9 L310.5,394.6 L311.6,394.9 L312.3,394.4 L313.4,394.6 L314.1,394.3 L315.2,394.4 L316.0,394.2 L317.0,394.4 L317.7,394.1 L318.9,394.3 L319.6,394.0 L320.7,394.1 L321.4,393.9 L322.5,394.0 L323.1,393.3 L324.2,393.0 L324.9,392.5 L325.8,392.1 L326.3,391.4 L327.3,391.0 L327.8,390.2 L328.8,390.1 L329.3,389.1 L330.2,388.9 L330.7,388.0 L331.3,387.4 L331.5,386.4 L332.2,385.8 L332.4,384.8 L333.0,384.1 L333.3,383.1 L333.9,382.3 L334.0,381.4 L334.7,380.7 L334.9,379.7 L335.6,379.1 L335.7,377.9 L336.4,377.5 L336.6,376.3 L337.0,375.8 L337.0,374.7 L337.5,374.0 L337.5,372.8 L337.9,372.2 L337.9,371.0 L338.4,370.5 L338.4,369.3 L338.9,368.8 L338.9,367.5 L339.3,366.9 L339.4,365.8 L339.7,365.2 L339.8,364.0 L340.2,363.3 L340.2,362.3 L340.7,361.7 L340.7,360.5 L341.1,359.9 L341.1,358.8 L341.6,358.1 L341.5,356.9 L341.8,356.3 L341.7,355.1 L342.1,354.6 L342.0,353.4 L342.3,352.8 L342.2,351.6 L342.5,350.9 L342.4,349.7 L342.7,349.2 L342.6,348.0 L343.0,347.4 L342.8,346.2 L343.1,345.5 L343.0,344.4 L343.4,343.6 L343.3,342.7 L343.6,341.9 L343.5,340.8 L343.8,340.1 L343.8,339.1 L344.1,338.4 L344.0,337.3 L344.3,336.7 L344.2,335.6 L344.5,334.9 L344.4,333.6 L344.7,333.0 L344.5,331.8 L344.8,331.2 L344.7,330.0 L344.9,329.3 L344.8,328.2 L345.0,327.4 L344.9,326.2 L345.2,325.5 L345.1,324.3 L345.4,323.7 L345.2,322.5 L345.5,321.9 L345.3,320.6 L345.7,320.0 L345.5,318.8 L345.8,318.1 L345.6,316.8 L345.9,316.3 L345.7,315.0 L346.1,314.5 L345.9,313.2 L346.2,312.7 L346.0,311.3 L346.3,310.8 L346.2,309.3 L346.5,308.8 L346.3,307.6 L346.6,307.0 L346.4,305.7 L346.8,305.1 L346.3,303.0 L347.3,304.4 L346.2,300.7 L347.4,304.5 L346.5,296.9 L347.8,301.5 L346.4,296.3 L347.7,300.4 L346.7,295.4 L347.9,298.2 L346.7,292.2 L348.0,295.6 L346.8,289.7 L348.0,294.6 L346.9,288.9 L348.3,291.6 L347.1,288.2 L348.1,289.8 L347.1,284.2 L348.6,288.2 L347.5,282.8 L348.4,286.7 L347.4,282.1 L348.4,285.8 L347.2,279.7 L348.8,281.7 L347.5,277.6 L348.5,281.2 L347.5,275.3 L348.7,279.4 L347.7,274.2 L349.1,278.3 L348.0,272.8 L348.9,276.6 L347.8,271.5 L348.8,272.7 L348.1,270.5 L349.2,270.3 L347.9,267.6 L349.4,268.7 L348.1,264.9 L349.3,268.6 L348.5,264.8 L349.4,267.3 L348.4,263.1 L349.7,264.1 L348.3,259.2 L349.6,262.5 L348.8,258.0 L349.7,261.7 L348.6,258.0 L349.7,258.8 L348.8,255.3 L350.1,256.7 L348.7,253.6 L349.9,256.0 L348.9,252.7 L350.1,251.9 L348.9,249.9 L350.4,250.7 L349.3,248.3 L350.5,249.3 L349.1,246.0 L350.4,248.1 L349.5,245.9 L350.5,246.2 L349.4,242.8 L350.5,243.7 L349.4,242.1 L350.6,242.4 L349.4,239.1 L350.9,241.3 L349.7,236.4 L350.8,238.5 L350.0,234.1 L350.9,237.7 L350.0,232.1 L351.1,235.5 L350.2,231.1 L351.3,232.3 L350.3,228.4 L351.4,232.2 L350.7,226.2 L351.8,227.7 L350.5,226.1 L352.0,228.5 L350.7,225.0 L352.0,226.5 L351.0,223.2 L352.3,223.6 L351.0,219.3 L352.5,221.9 L351.1,220.2 L352.4,220.9 L351.5,214.6 L352.5,219.2 L351.6,215.3 L352.9,216.6 L351.7,213.6 L353.0,213.9 L352.3,210.3 L353.7,213.2 L352.5,209.3 L353.7,209.9 L353.1,206.4 L354.1,208.4 L353.4,204.7 L354.5,207.3 L353.9,203.2 L355.2,205.7 L354.2,200.5 L355.3,206.2 L354.8,199.6 L356.6,204.9 L356.6,199.8 L358.2,204.1 L357.7,201.6 L359.5,207.9 L358.8,203.4 L360.5,208.4 L360.1,204.8 L361.6,209.6 L361.1,207.0 L363.0,210.4 L363.0,209.2 L365.0,212.5 L364.3,208.8 L366.1,212.8 L365.6,209.6 L367.0,216.9 L366.1,211.6 L367.6,218.5 L366.6,213.6 L368.4,220.0 L367.5,216.2 L368.9,221.0 L368.3,218.5 L369.8,222.3 L368.5,217.8 L369.9,223.8 L368.8,223.2 L370.5,225.3 L369.4,224.8 L370.5,227.1 L369.8,225.7 L371.0,230.8 L369.8,226.2 L371.2,230.7 L370.3,228.5 L371.6,231.5 L370.4,230.8 L371.7,236.6 L370.6,232.7 L372.1,239.7 L371.1,234.8 L372.1,239.0 L371.3,236.6 L372.3,239.6 L371.2,237.5 L372.4,241.3 L371.3,240.1 L372.4,243.7 L371.5,241.9 L372.7,246.4 L371.8,241.1 L373.0,247.4 L371.9,245.5 L373.1,250.6 L371.9,246.3 L373.0,253.5 L371.8,248.8 L373.1,255.7 L372.2,251.3 L373.3,256.4 L372.2,254.7 L373.5,257.8 L372.4,253.0 L373.5,259.8 L372.6,256.8 L373.9,261.7 L372.9,258.6 L374.1,262.2 L372.9,259.9 L374.0,263.6 L373.1,261.9 L374.1,267.8 L373.1,262.8 L374.0,268.1 L373.3,265.1 L374.6,268.6 L373.2,267.0 L374.5,271.4 L373.6,269.6 L374.5,273.1 L373.5,271.2 L374.9,274.5 L373.5,272.8 L374.9,277.7 L373.9,274.1 L374.8,278.1 L373.8,276.9 L375.0,280.6 L374.0,278.9 L375.5,284.6 L374.3,279.5 L375.3,285.2 L374.4,281.6 L375.6,284.6 L374.3,284.5 L375.5,288.7 L374.3,286.8 L375.4,290.6 L374.5,289.1 L375.6,293.1 L374.4,287.7 L375.6,295.3 L374.3,291.1 L375.7,296.2 L374.6,293.0 L375.5,296.0 L374.5,294.3 L375.9,297.5 L374.7,296.7 L375.6,299.4 L374.6,297.9 L376.1,304.7 L375.0,300.1 L376.1,304.9 L374.8,302.7 L376.2,305.9 L375.3,305.4 L375.5,306.6 L375.3,307.2 L375.6,308.4 L375.4,309.0 L375.7,310.3 L375.4,310.8 L375.7,312.1 L375.5,312.6 L375.8,313.9 L375.5,314.6 L375.8,315.7 L375.6,316.3 L375.8,317.6 L375.6,318.2 L376.0,319.3 L375.7,320.0 L376.0,321.2 L375.7,321.9 L376.1,323.0 L375.8,323.7 L376.1,324.8 L376.0,325.5 L376.2,326.7 L376.1,327.3 L376.4,328.5 L376.2,329.0 L376.5,330.2 L376.1,330.9 L376.5,332.1 L376.3,332.6 L376.6,333.9 L376.4,334.4 L376.7,335.6 L376.4,336.4 L376.8,337.4 L376.5,338.3 L376.9,339.4 L376.6,340.1 L377.0,341.2 L376.7,341.8 L376.9,343.1 L376.8,343.5 L377.0,344.9 L376.8,345.3 L377.2,346.6 L376.9,347.2 L377.3,348.4 L377.1,349.2 L377.4,350.2 L377.3,350.7 L377.8,352.1 L377.6,352.8 L378.1,353.9 L377.8,354.5 L378.3,355.6 L378.1,356.2 L378.5,357.4 L378.4,358.0 L378.7,359.2 L378.7,359.8 L379.0,361.0 L378.9,361.6 L379.2,363.0 L379.1,363.4 L379.6,364.5 L379.3,365.2 L379.7,366.4 L379.6,367.1 L380.1,368.2 L379.9,368.7 L380.3,369.9 L380.1,370.6 L380.5,371.6 L380.5,372.3 L381.0,373.5 L381.0,374.1 L381.6,375.4 L381.6,376.1 L382.1,377.1 L382.0,377.7 L382.6,379.1 L382.6,379.6 L383.1,381.0 L383.1,381.4 L383.7,382.6 L383.6,383.3 L384.2,384.5 L384.2,385.1 L385.0,386.2 L385.4,386.6 L386.3,387.7 L386.6,388.1 L387.5,389.0 L387.8,389.5 L388.7,390.5 L389.1,390.9 L390.3,391.0 L391.0,390.5 L392.3,390.7 L393.0,390.2 L394.2,390.3 L394.4,389.3 L395.3,388.6 L395.4,387.7 L396.3,387.1 L396.6,386.1 L397.4,385.8 L397.6,384.7 L398.5,384.3 L398.8,383.4 L399.3,382.5 L399.2,381.4 L399.7,380.7 L399.7,379.5 L400.2,379.1 L400.2,377.6 L400.6,377.2 L400.6,375.9 L401.1,375.3 L401.0,374.1 L401.5,373.2 L401.5,372.1 L402.1,371.6 L401.9,370.3 L402.5,369.9 L402.4,368.5 L402.9,368.1 L402.8,366.6 L403.2,366.1 L403.0,364.9 L403.4,364.3 L403.2,363.3 L403.6,362.5 L403.5,361.2 L403.8,360.7 L403.6,359.6 L404.0,358.9 L403.9,357.8 L404.3,357.3 L404.1,355.9 L404.5,355.5 L404.3,354.1 L404.7,353.6 L404.6,352.4 L405.0,351.7 L404.8,350.6 L405.2,349.9 L405.0,348.7 L405.4,348.2 L405.2,346.9 L405.6,346.2 L405.5,345.2 L405.9,344.6 L405.6,343.3 L405.9,342.7 L405.8,341.5 L406.1,340.9 L405.9,339.9 L406.2,339.2 L406.1,338.0 L406.4,337.3 L406.2,336.2 L406.5,335.4 L406.3,334.3 L406.6,333.5 L406.4,332.5 L406.8,331.8 L406.6,330.7 L407.0,330.0 L406.7,329.0 L407.1,328.1 L406.9,327.1 L407.2,326.4 L407.1,325.2 L407.4,324.6 L407.2,323.3 L407.6,322.8 L407.3,321.5 L407.6,321.0 L407.5,319.9 L407.8,319.1 L407.6,317.9 L407.9,317.3 L407.8,316.3 L408.1,315.6 L407.9,314.4 L408.3,313.9 L408.0,312.7 L408.4,312.0 L408.2,310.7 L408.6,310.2 L408.3,308.9 L408.6,308.3 L408.4,307.2 L408.7,306.5 L408.4,305.4 L409.2,306.0 L407.9,300.6 L409.4,304.0 L408.0,301.2 L409.5,302.9 L408.3,298.1 L409.5,301.5 L408.3,296.6 L409.6,299.6 L408.4,293.8 L409.4,298.5 L408.5,292.0 L409.8,294.9 L408.3,290.4 L409.7,293.4 L408.7,288.7 L409.5,290.8 L408.8,287.6 L409.7,290.5 L408.5,285.5 L409.7,287.4 L408.6,284.0 L410.0,286.4 L408.8,280.4 L410.1,283.9 L409.1,279.2 L410.0,282.6 L409.1,280.7 L410.0,280.7 L409.2,277.0 L410.3,278.5 L408.9,276.1 L410.4,278.0 L409.2,273.5 L410.5,276.9 L409.1,271.3 L410.5,272.1 L409.3,268.5 L410.7,272.1 L409.2,266.5 L410.5,270.0 L409.5,265.0 L410.8,266.4 L409.5,263.6 L410.8,265.8 L409.6,261.1 L410.7,263.9 L410.0,261.7 L411.1,262.2 L410.1,260.1 L411.1,260.4 L410.0,255.5 L411.0,258.9 L410.1,255.4 L411.2,256.9 L410.4,252.7 L411.3,256.9 L410.3,251.2 L411.4,254.3 L410.4,250.0 L411.7,251.9 L410.8,247.8 L411.7,251.7 L410.6,245.8 L411.9,246.4 L411.0,243.9 L412.2,245.6 L410.9,240.7 L412.3,244.0 L411.1,242.0 L412.2,241.8 L411.5,239.2 L412.6,241.3 L411.6,235.3 L412.7,241.0 L411.6,234.5 L412.9,238.0 L411.6,234.2 L413.0,235.5 L412.1,232.7 L413.2,233.2 L412.0,229.4 L413.3,233.0 L412.3,226.8 L413.8,231.7 L412.5,226.0 L414.1,229.9 L412.6,223.5 L414.2,226.2 L413.2,223.1 L414.8,225.5 L414.1,220.7 L415.6,223.5 L414.5,218.7 L416.2,220.5 L415.3,217.5 L416.8,220.7 L416.5,219.5 L418.2,223.4 L417.4,221.1 L419.0,225.8 L418.2,221.7 L420.2,225.3 L419.6,223.4 L421.0,227.2 L420.7,225.1 L422.1,227.6 L421.8,226.1 L423.4,232.5 L423.0,227.7 L424.6,232.9 L423.7,228.6 L425.5,234.8 L424.6,231.1 L426.1,235.3 L425.3,232.9 L426.6,238.1 L426.0,234.3 L427.3,240.0 L426.6,236.7 L428.2,241.0 L427.2,237.6 L428.7,243.3 L427.3,240.0 L428.9,244.7 L427.6,240.6 L428.9,246.7 L427.8,244.3 L429.3,247.8 L428.2,247.0 L429.5,249.1 L428.2,248.8 L429.7,250.7 L428.4,250.1 L430.0,252.9 L428.7,253.2 L430.0,255.4 L429.0,252.5 L430.1,258.3 L429.3,254.2 L430.2,259.5 L429.3,257.1 L430.5,263.7 L429.5,259.5 L430.8,261.6 L429.7,261.4 L430.9,264.6 L429.8,262.3 L430.8,268.3 L429.7,264.0 L431.0,269.6 L430.0,266.1 L431.0,270.9 L430.4,268.8 L431.2,273.3 L430.4,270.8 L431.7,274.3 L430.5,272.2 L431.6,274.8 L430.4,274.5 L431.7,277.0 L430.6,276.3 L431.8,279.0 L431.1,277.8 L432.3,281.4 L430.8,279.8 L432.0,283.5 L431.2,280.5 L432.5,285.5 L431.0,281.7 L432.6,285.7 L431.2,284.9 L432.6,287.7 L431.5,286.6 L432.4,289.8 L431.6,288.6 L432.5,291.3 L431.6,290.6 L432.5,293.2 L431.8,291.9 L432.7,295.8 L431.6,295.5 L433.0,298.3 L431.8,295.9 L433.1,299.8 L432.0,298.0 L433.0,300.0 L432.0,297.8 L433.5,303.5 L432.0,300.1 L433.5,305.1 L432.2,302.9 L433.0,305.6 L432.8,306.1 L433.1,307.4 L433.0,307.9 L433.2,309.1 L433.0,309.6 L433.4,310.9 L433.1,311.6 L433.4,312.9 L433.2,313.3 L433.5,314.7 L433.3,315.3 L433.6,316.3 L433.4,317.0 L433.8,318.3 L433.5,318.8 L433.8,319.9 L433.6,320.6 L433.9,321.8 L433.8,322.3 L434.1,323.6 L433.8,324.2 L434.2,325.4 L433.9,326.2 L434.2,327.2 L434.0,328.0 L434.3,329.0 L434.1,329.8 L434.4,330.8 L434.2,331.6 L434.6,332.6 L434.3,333.4 L434.8,334.5 L434.5,335.3 L434.9,336.5 L434.6,336.9 L434.9,338.2 L434.7,338.9 L435.1,340.1 L434.9,340.7 L435.2,341.9 L435.0,342.6 L435.3,343.8 L435.1,344.5 L435.4,345.7 L435.2,346.3 L435.5,347.5 L435.3,348.1 L435.6,349.4 L435.5,349.9 L435.8,351.1 L435.6,351.8 L436.0,353.0 L435.7,353.8 L436.1,354.9 L435.9,355.4 L436.2,356.8 L435.9,357.2 L436.3,358.6 L436.0,359.0 L436.4,360.3 L436.2,361.0 L436.6,362.2 L436.3,362.8 L436.7,364.2 L436.5,364.7 L436.9,365.7 L436.7,366.5 L437.2,367.5 L437.0,368.3 L437.4,369.5 L437.4,370.1 L437.8,371.3 L437.6,372.0 L438.1,373.1 L438.0,373.9 L438.3,374.9 L438.1,375.5 L438.6,376.9 L438.5,377.4 L438.9,378.7 L438.8,379.3 L439.8,380.6 L440.2,381.3 L440.6,380.6 L440.5,379.6 L440.8,378.7 L440.6,377.7 L441.0,377.0 L440.8,375.6 L441.2,375.2 L441.0,374.0 L441.3,373.4 L441.2,372.1 L441.5,371.7 L441.4,370.4 L441.8,369.6 L441.6,368.6 L441.9,367.9 L441.7,366.8 L442.0,366.0 L441.8,365.0 L442.1,364.3 L441.8,363.1 L442.2,362.3 L442.0,361.3 L442.3,360.6 L442.1,359.5 L442.3,358.9 L442.1,357.7 L442.5,357.1 L442.2,355.9 L442.6,355.1 L442.3,354.1 L442.6,353.3 L442.4,352.3 L442.7,351.5 L442.5,350.2 L442.8,349.7 L442.6,348.5 L442.9,347.8 L442.6,346.6 L442.9,346.0 L442.8,344.8 L443.1,344.2 L442.9,343.0 L443.2,342.3 L442.9,341.1 L443.2,340.4 L443.0,339.4 L443.3,338.7 L443.1,337.6 L443.4,336.9 L443.2,335.9 L443.5,335.1 L443.2,333.9 L443.6,333.4 L443.3,332.1 L443.7,331.6 L443.4,330.3 L443.7,329.7 L443.5,328.5 L443.9,328.0 L443.6,326.7 L443.9,326.0 L443.7,324.9 L443.9,324.1 L443.8,323.1 L444.1,322.5 L443.8,321.2 L444.1,320.6 L443.9,319.4 L444.3,318.7 L444.0,317.5 L444.3,316.9 L444.1,315.8 L444.4,315.2 L444.1,313.9 L444.5,313.4 L444.2,312.0 L444.5,311.5 L444.3,310.3 L444.7,309.8 L444.4,308.6 L444.8,307.9 L444.5,306.7 L444.8,306.0 L443.9,302.6 L445.2,308.3 L444.2,301.9 L445.4,303.2 L444.3,300.6 L445.7,302.0 L444.5,299.5 L445.8,299.5 L444.6,296.2 L445.9,297.2 L444.9,294.9 L445.8,297.3 L445.0,291.6 L446.0,295.6 L444.8,289.0 L446.0,292.6 L445.2,288.4 L446.4,290.0 L445.4,288.1 L446.6,288.1 L445.2,285.5 L446.5,285.6 L445.1,280.9 L446.8,283.7 L445.4,280.2 L447.0,282.1 L445.5,279.3 L447.3,284.3 L445.6,277.2 L447.3,282.7 L445.6,274.3 L447.5,276.5 L446.1,272.8 L447.8,275.3 L446.5,272.0 L447.6,277.4 L446.4,268.4 L447.8,270.8 L446.5,267.7 L447.9,270.9 L446.7,267.9 L447.9,270.9 L447.2,265.8 L448.3,268.8 L447.1,262.1 L448.8,265.9 L447.3,262.6 L449.4,263.7 L448.0,257.5 L449.6,261.5 L448.5,255.5 L450.1,259.6 L448.6,253.6 L450.2,261.5 L449.4,252.3 L451.0,259.4 L449.6,250.3 L451.2,258.8 L450.1,246.1 L451.4,252.4 L450.3,246.9 L452.6,259.4 L451.1,251.0 L453.1,259.4 L452.2,252.9 L453.7,259.1 L452.6,253.5 L455.4,260.8 L454.9,251.8 L457.4,260.5 L456.6,252.6 L458.6,261.2 L458.1,250.6 L459.9,261.2 L459.4,252.7 L461.6,259.8 L460.6,251.3 L462.6,257.8 L461.6,253.7 L463.0,258.4 L462.0,250.6 L464.0,259.8 L462.9,255.2 L464.1,259.9 L463.0,258.6 L465.0,263.3 L463.6,262.7 L465.3,265.7 L464.0,263.8 L465.7,268.1 L464.0,264.6 L465.5,270.3 L464.5,263.2 L466.1,271.3 L464.9,266.7 L466.1,271.5 L464.6,270.0 L466.4,273.7 L464.9,267.9 L466.5,277.2 L465.3,272.3 L466.9,280.3 L465.4,276.3 L467.1,279.1 L466.0,278.4 L467.4,281.0 L466.1,280.9 L467.4,284.6 L466.3,280.2 L467.8,284.5 L466.6,280.3 L468.3,291.5 L467.1,280.6 L468.2,290.3 L467.0,282.2 L468.5,292.0 L467.4,285.4 L469.0,293.2 L467.9,290.8 L469.2,295.2 L467.7,290.9 L469.7,298.4 L468.1,294.4 L469.7,299.0 L468.5,294.1 L470.1,298.8 L469.0,297.6 L470.5,300.7 L468.9,297.2 L470.6,305.2 L469.2,296.8 L471.0,307.1 L469.5,300.5 L471.1,310.8 L470.4,303.4 L471.9,307.5 L470.3,305.4 L472.0,311.4 L470.8,307.1 L472.5,311.6 L471.1,306.6 L472.4,309.8 L471.5,300.2 L472.8,308.2 L471.6,302.0 L473.0,307.9 L471.7,296.7 L473.2,306.7 L472.0,294.9 L473.1,302.3 L472.2,297.2 L473.5,298.6 L472.5,293.3 L473.9,297.5 L472.2,288.4 L473.9,298.6 L472.5,290.5 L474.4,296.2 L472.9,288.5 L474.0,292.2 L472.8,285.4 L474.6,290.6 L473.1,283.2 L474.6,290.6 L473.6,281.1 L475.0,290.8 L473.7,279.8 L475.1,287.9 L473.7,279.7 L475.5,286.5 L473.9,275.4 L475.8,282.3 L474.3,272.7 L475.9,279.1 L474.9,275.4 L476.8,278.9 L475.8,270.1 L477.2,275.9 L476.4,270.9 L478.3,277.7 L477.3,276.4 L478.8,282.3 L477.8,272.9 L479.3,282.3 L479.2,280.6 L481.4,283.8 L480.5,277.5 L482.9,284.7 L482.2,278.3 L484.4,288.0 L483.1,276.7 L485.3,281.5 L484.4,275.5 L486.8,279.6 L486.1,275.6 L487.9,278.0 L486.6,273.3 L487.8,275.2 L486.9,271.1 L488.6,276.0 L487.2,270.0 L488.7,274.4 L487.9,267.1 L489.4,273.6 L488.5,266.4 L490.0,273.0 L488.9,267.1 L490.3,268.6 L489.1,261.3 L491.5,264.8 L490.4,260.1 L492.0,264.2 L491.7,257.7 L492.9,270.2 L491.6,259.1 L493.5,270.3 L492.2,260.2 L494.2,270.6 L492.5,262.6 L494.3,271.5 L493.0,265.4 L494.7,274.5 L493.4,270.8 L495.4,275.6 L494.4,273.1 L495.7,277.3 L495.1,269.8 L496.2,280.1 L495.4,274.3 L497.4,280.4 L496.3,279.2 L497.6,281.6 L496.9,279.2 L499.3,282.0 L498.8,279.4 L501.1,284.5 L500.5,279.4 L502.1,287.3 L500.7,274.4 L502.4,283.0 L501.5,276.8 L502.9,280.9 L501.6,273.5 L503.4,281.3 L502.1,270.3 L504.0,274.3 L502.5,267.7 L504.0,274.4 L503.0,264.3 L504.6,273.3 L503.5,263.3 L505.0,270.5 L503.7,263.8 L505.2,273.0 L504.0,263.1 L505.3,268.1 L504.1,262.0 L505.7,262.7 L504.6,259.9 L505.8,263.6 L504.5,256.3 L505.9,261.8 L504.7,254.5 L506.2,258.7 L504.8,254.4 L506.5,256.8 L505.0,250.4 L506.6,256.4 L505.5,252.0 L507.2,254.0 L506.5,250.6 L508.0,250.2 L506.8,244.4 L508.4,249.1 L507.7,244.4 L510.0,251.2 L509.6,246.0 L511.9,252.2 L511.4,243.8 L513.2,250.9 L511.7,245.8 L513.8,254.3 L512.1,244.3 L513.9,258.1 L512.9,249.2 L514.7,260.3 L513.2,250.1 L515.3,261.9 L514.0,252.9 L515.8,263.0 L515.1,255.6 L516.7,264.6 L516.3,256.9 L518.2,263.8 L517.6,257.1 L519.4,267.1 L518.3,258.4 L520.6,263.9 L519.1,257.0 L521.2,262.5 L520.2,254.8 L522.0,261.1 L520.7,252.6 L523.1,259.2 L521.9,253.6 L524.1,260.2 L523.2,257.0 L525.5,261.9 L524.2,261.1 L525.6,264.7 L524.5,263.9 L525.8,265.8 L524.7,260.7 L525.6,266.8 L524.7,261.6 L526.0,270.7 L524.9,263.9 L526.3,274.7 L524.7,267.6 L526.4,277.5 L525.2,271.2 L526.6,277.2 L525.3,269.3 L526.7,279.9 L525.7,272.7 L527.2,279.2 L525.9,273.9 L527.2,281.5 L526.3,276.1 L527.8,282.8 L526.5,279.5 L527.9,285.0 L526.9,278.0 L528.4,289.6 L527.2,282.3 L528.8,291.6 L527.5,281.4 L529.4,292.0 L528.4,283.1 L529.5,292.9 L528.7,285.1 L530.2,295.1 L529.2,284.5 L530.4,293.4 L529.2,282.9 L530.7,290.6 L529.7,281.9 L531.3,288.2 L530.1,281.2 L531.6,283.8 L530.0,280.0 L531.7,285.1 L530.6,277.9 L532.2,286.4 L530.9,277.4 L532.1,281.2 L530.9,275.1 L532.7,283.2 L531.2,270.2 L533.1,276.7 L531.4,269.5 L533.4,275.6 L532.0,269.3 L533.7,271.1 L532.3,268.5 L533.5,271.2 L532.9,265.7 L534.2,270.3 L532.7,266.6 L534.1,268.1 L533.4,259.6 L534.5,268.2 L533.4,258.1 L535.3,266.9 L533.8,255.7 L535.2,264.9 L534.1,255.5 L535.3,260.9 L534.6,253.0 L535.9,257.6 L534.9,254.7 L536.9,259.6 L535.8,255.4 L538.0,263.7 L537.3,254.0 L539.7,260.6 L539.0,253.6 L541.0,262.3 L540.8,253.2 L542.5,258.2 L541.8,251.8 L544.2,261.1 L543.2,250.3 L545.2,253.4 L544.0,248.4 L546.2,251.5 L545.2,247.5 L547.1,253.5 L546.5,249.1 L549.0,254.2 L548.7,245.9 L550.8,254.3 L550.2,244.6 L551.9,253.8 L550.5,250.8 L552.6,255.9 L551.2,250.9 L553.3,259.9 L551.7,253.5 L553.6,263.3 L552.8,258.8 L554.0,262.2 L553.2,258.8 L554.9,261.2 L553.6,258.0 L555.1,264.9 L553.9,257.4 L555.4,267.9 L554.3,261.1 L555.9,274.6 L554.4,263.9 L555.7,272.8 L554.9,265.3 L556.3,271.6 L554.8,267.1 L556.4,274.4 L555.8,268.1 L557.6,274.1 L556.3,266.4 L557.9,274.1 L556.6,263.2 L558.7,269.9 L557.7,264.6 L559.3,268.1 L558.5,263.5 L559.7,267.2 L558.8,258.8 L560.2,269.8 L559.4,260.3 L560.8,270.8 L559.8,265.5 L561.2,269.2 L559.9,267.9 L561.7,269.8 L560.5,267.2 L561.9,270.7 L560.8,268.1 L562.2,275.7 L561.3,269.4 L563.0,275.2 L561.9,270.1 L564.0,274.0 L562.8,270.3 L564.8,272.6 L563.3,267.7 L565.5,272.4 L564.0,263.9 L566.2,270.4 L565.2,261.9 L566.5,266.6 L565.6,257.1 L567.0,264.3 L566.1,255.0 L568.0,260.4 L566.7,256.8 L568.7,260.2 L567.4,254.3 L569.4,261.1 L568.1,250.9 L569.6,261.7 L568.3,251.4 L570.7,258.5 L569.7,252.1 L571.7,260.1 L570.5,252.7 L572.4,262.2 L571.7,255.1 L573.5,264.4 L572.7,254.7 L575.0,265.2 L573.8,262.0 L575.9,268.2 L575.5,261.6 L577.6,270.2 L576.8,260.8 L578.8,269.5 L578.4,264.1 L580.7,268.0 L580.6,268.7 M582.0,230.8 L581.9,226.6 L583.3,229.0 L583.3,225.2 L584.7,228.6 L584.9,223.7 L585.8,228.1 L585.2,224.7 L585.9,228.9 L585.7,226.2 L586.6,232.7 L585.7,229.0 L587.0,233.5 L586.1,231.3 L587.4,235.4 L586.5,231.5 L587.7,235.2 L587.1,234.5 L588.2,236.8 L587.7,235.1 L589.0,239.9 L588.4,239.2 L589.6,241.9 L589.3,239.8 L590.3,243.2 L590.0,238.5 L591.1,243.5 L590.5,238.4 L591.7,240.9 L591.1,235.8 L592.3,241.2 L592.0,233.4 L593.1,239.2 L592.5,233.4 L593.8,235.7 L593.1,231.0 L594.9,235.6 L594.6,228.0 L596.3,232.9 L596.2,227.2 L597.8,232.2 L597.7,226.9 L598.9,227.5 L598.9,225.6 L600.3,228.0 L600.4,224.0 L601.9,228.7 L601.7,224.5 L603.2,228.1 L602.7,226.0 L604.5,229.6 L604.3,228.2 L605.5,230.0 L605.4,226.4 L606.7,228.2 L606.4,224.6 L608.0,227.3 L607.9,221.6 L609.0,225.8 L608.8,220.8 L610.3,223.9 L609.9,221.0 L611.3,223.7 L610.9,216.9 L612.6,221.2 L612.0,214.7 L613.5,220.3 L613.8,216.2 L615.6,220.1 L615.5,217.9 L617.4,219.3 L617.6,216.5 L619.0,222.4 L618.7,214.0 L620.0,218.9 L619.7,212.5 L620.9,217.7 L620.8,212.0 L622.2,216.2 L622.0,211.0 L623.3,212.7 L623.4,210.8 L625.2,213.3 L625.3,211.4 L627.3,213.8 L627.1,210.9 L628.9,214.2 L628.7,209.5 L630.3,209.6 L630.1,207.3 L631.5,210.9 L631.4,205.3 L633.0,210.0 L633.0,204.4 L634.7,207.0 L634.4,203.9 L636.0,207.1 L636.2,201.0 L637.8,204.6 L637.8,201.4 L639.5,208.2 L639.4,203.0 L641.1,208.7 L641.0,203.9 L642.6,208.8 L642.4,203.8 L643.8,209.1 L643.5,206.8 L644.7,213.3 L644.3,209.0 L645.7,214.7 L645.2,211.4 L646.6,213.3 L646.1,213.8 L647.6,217.3 L647.6,215.0 L649.0,216.2 L649.0,213.6 L650.7,215.7 L650.7,212.0 L652.6,215.1 L652.6,211.1 L654.2,213.2 L654.4,208.0 L655.9,212.6 L655.6,208.8 L656.6,214.5 L656.5,211.9 L657.6,214.6 L657.0,212.1 L658.2,216.7 L657.6,213.9 L659.1,220.1 L658.7,214.8 L659.6,223.0 L659.4,216.5 L661.1,221.1 L661.0,214.8 L662.8,219.3 L662.3,212.6 L663.8,217.1 L663.2,212.1 L664.5,213.5 L664.0,211.3 L665.3,212.0 L665.1,209.8 L666.1,210.5 L665.8,208.3 L667.1,209.2 L667.0,206.4 L668.7,206.4 L668.9,203.9 L670.6,207.6 L670.5,202.0 L672.6,207.3 L672.4,203.0 L674.3,204.8 L674.2,200.8 L675.6,206.3 L675.7,199.3 L677.2,205.6 L677.0,197.7 L678.7,203.5 L678.9,200.0 L680.6,202.3 L680.9,197.5 L682.4,201.8 L682.5,198.4 L684.4,201.1 L684.8,200.0" stroke="#05041a" stroke-width="5.1" fill="none" stroke-linejoin="round" stroke-linecap="round"/>
<path d="M120.9,105.5H181.1 M230.6,182.1H336.8 M439.9,186.9H444.2 M568.7,230.0H575.1 M581.5,230.0H675.1 M652.2,258.8H684.8" stroke="#b01e48" stroke-width="4.2" fill="none"/>
<path d="M581.2,270V226" stroke="#05041a" stroke-width="3" fill="none"/>
<rect x="405.5" y="441.3" width="280.20000000000005" height="95.30000000000001" fill="#ffffff"/>
<path d="M485.7,536.6v-6.5 M545.9,536.6v-6.5 M581.1,536.6v-6.5 M606.1,536.6v-6.5 M625.5,536.6v-6.5 M641.3,536.6v-6.5 M654.7,536.6v-6.5 M666.3,536.6v-6.5 M676.5,536.6v-6.5 M425.5,536.6v-6.5 M441.3,536.6v-6.5 M454.7,536.6v-6.5 M466.3,536.6v-6.5 M476.5,536.6v-6.5 M485.7,536.6v-6.5 M685.7,488.7h-6.5 M405.5,488.7h6.5" stroke="#86848f" stroke-width="1.7" fill="none"/>
<path d="M425.6,461H456.8" stroke="#b01e48" stroke-width="4.2" fill="none"/>
<text x="481" y="467.6" class="t" textLength="190" lengthAdjust="spacingAndGlyphs">Class 5 Average Limit</text>
<path d="M425.6,485.3H456.8" stroke="#05041a" stroke-width="4.2" fill="none"/>
<text x="481" y="491.90000000000003" class="t" textLength="130" lengthAdjust="spacingAndGlyphs">Total Emission</text>
<path d="M425.6,509.6H456.8" stroke="#0b70b8" stroke-width="4.2" fill="none"/>
<text x="481" y="516.2" class="t" textLength="111.2" lengthAdjust="spacingAndGlyphs">DM Emission</text>
<rect x="85.7" y="57.6" width="600.0" height="479.0" fill="none" stroke="#312f45" stroke-width="2.4"/>
<text x="259" y="17.2" class="t" textLength="252.6" lengthAdjust="spacingAndGlyphs">Conducted EMI Performance</text>
<text x="212.6" y="41.6" class="t" textLength="345" lengthAdjust="spacingAndGlyphs">(CISPR 25 with Class 5 Average Limits)</text>
<text x="42.4" y="545.2" class="t" textLength="32.2" lengthAdjust="spacingAndGlyphs">–40</text>
<text x="43.4" y="497.3" class="t" textLength="31.2" lengthAdjust="spacingAndGlyphs">–30</text>
<text x="43.4" y="449.4" class="t" textLength="31.2" lengthAdjust="spacingAndGlyphs">–20</text>
<text x="47.0" y="401.5" class="t" textLength="27.6" lengthAdjust="spacingAndGlyphs">–10</text>
<text x="63.2" y="353.6" class="t" textLength="11.4" lengthAdjust="spacingAndGlyphs">0</text>
<text x="56.0" y="305.7" class="t" textLength="18.6" lengthAdjust="spacingAndGlyphs">10</text>
<text x="52.2" y="257.8" class="t" textLength="22.4" lengthAdjust="spacingAndGlyphs">20</text>
<text x="52.2" y="209.9" class="t" textLength="22.4" lengthAdjust="spacingAndGlyphs">30</text>
<text x="52.2" y="162.0" class="t" textLength="22.4" lengthAdjust="spacingAndGlyphs">40</text>
<text x="52.2" y="114.1" class="t" textLength="22.4" lengthAdjust="spacingAndGlyphs">50</text>
<text x="52.2" y="66.2" class="t" textLength="22.4" lengthAdjust="spacingAndGlyphs">60</text>
<text x="73.4" y="567.2" class="t" textLength="24.8" lengthAdjust="spacingAndGlyphs">0.1</text>
<text x="280.0" y="567.2" class="t">1</text>
<text x="476.2" y="567.2" class="t" textLength="19.0" lengthAdjust="spacingAndGlyphs">10</text>
<text x="670.8" y="567.2" class="t" textLength="28.6" lengthAdjust="spacingAndGlyphs">108</text>
<text x="311.4" y="606" class="t" textLength="149.8" lengthAdjust="spacingAndGlyphs">Frequency (MHz)</text>
<text transform="translate(16.2,375.2) rotate(-90)" class="t" textLength="158.6" lengthAdjust="spacingAndGlyphs">Amplitude (dBµV)</text>
<rect x="502.5" y="587" width="200.5" height="30" fill="#fbfbfb"/>
<text x="519.3" y="607.7" class="w" textLength="163.9" lengthAdjust="spacingAndGlyphs">www.cntronics.com</text>
</svg>
</body></html>
